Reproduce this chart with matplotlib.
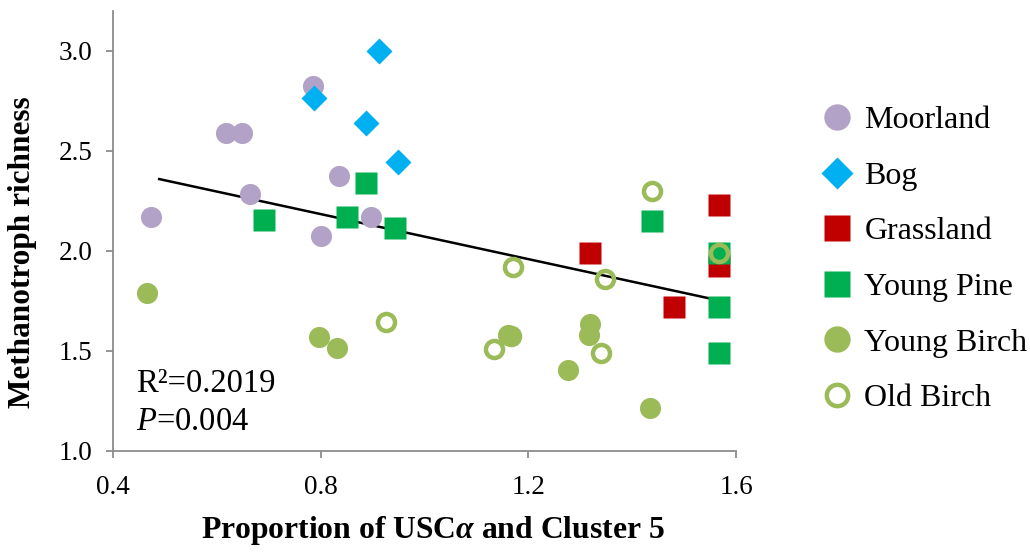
import matplotlib
matplotlib.use("Agg")
import matplotlib.pyplot as plt
import numpy as np

plt.rcParams["font.family"] = ["Liberation Serif", "DejaVu Serif"]
plt.rcParams["mathtext.fontset"] = "custom"
plt.rcParams["mathtext.rm"] = "Liberation Serif"
plt.rcParams["mathtext.it"] = "Liberation Serif:italic"
plt.rcParams["mathtext.bf"] = "Liberation Serif:bold"
plt.rcParams["mathtext.bfit"] = "Liberation Serif:italic:bold"

# Proportion of USCalpha + Cluster 5 (x) vs methanotroph richness (y), by land use
moorland_x = [0.474, 0.617, 0.649, 0.663, 0.786, 0.835, 0.896, 0.801]
moorland_y = [2.17, 2.59, 2.59, 2.285, 2.825, 2.377, 2.172, 2.077]

bog_x = [0.912, 0.787, 0.887, 0.949]
bog_y = [3.0, 2.767, 2.64, 2.445]

grassland_x = [1.567, 1.319, 1.481, 1.567]
grassland_y = [2.228, 1.99, 1.72, 1.925]

young_pine_x = [0.69, 0.887, 0.851, 0.944, 1.439, 1.567, 1.567, 1.567]
young_pine_y = [2.155, 2.338, 2.17, 2.113, 2.152, 1.99, 1.72, 1.49]

young_birch_x = [0.465, 0.797, 0.831, 1.160, 1.318, 1.316, 1.277, 1.435]
young_birch_y = [1.79, 1.572, 1.515, 1.58, 1.635, 1.58, 1.405, 1.213]

old_birch_x = [0.925, 1.170, 1.347, 1.439, 1.133, 1.340, 1.567, 1.167]
old_birch_y = [1.647, 1.92, 1.858, 2.30, 1.51, 1.488, 1.99, 1.575]

# Linear trend line over the sampled range
trend_slope = -0.563
trend_intercept = 2.635
trend_x_range = [0.489, 1.564]

r_squared = "0.2019"
p_value = "0.004"

x_ticks = [0.4, 0.8, 1.2, 1.6]
y_ticks = [1.0, 1.5, 2.0, 2.5, 3.0]

fig = plt.figure(figsize=(10.3, 5.52), dpi=100)
ax = fig.add_axes([113 / 1030, 1 - 451 / 552, 623 / 1030, 440 / 552])

ax.plot(moorland_x, moorland_y, ls="none", marker="o", ms=15.2,
        mfc="#B3A2C7", mec="none", label="Moorland")
ax.plot(bog_x, bog_y, ls="none", marker="D", ms=12.8,
        mfc="#00B0F0", mec="none", label="Bog")
ax.plot(grassland_x, grassland_y, ls="none", marker="s", ms=15.5,
        mfc="#C00000", mec="none", label="Grassland")
ax.plot(young_pine_x, young_pine_y, ls="none", marker="s", ms=15.5,
        mfc="#00B050", mec="none", label="Young Pine")
ax.plot(young_birch_x, young_birch_y, ls="none", marker="o", ms=15.2,
        mfc="#9BBB59", mec="none", label="Young Birch")
ax.plot(old_birch_x, old_birch_y, ls="none", marker="o", ms=12.3,
        mfc="none", mec="#9BBB59", mew=3.2, label="Old Birch")

tx = np.array(trend_x_range)
ax.plot(tx, trend_intercept + trend_slope * tx, color="black", lw=1.8, zorder=1.5)

ax.set_xlim(0.4, 1.6)
ax.set_ylim(1.0, 3.2)
ax.set_xticks(x_ticks)
ax.set_yticks(y_ticks)
ax.set_xticklabels([f"{v:.1f}" for v in x_ticks])
ax.set_yticklabels([f"{v:.1f}" for v in y_ticks])

for side in ("top", "right"):
    ax.spines[side].set_visible(False)
for side in ("left", "bottom"):
    ax.spines[side].set_color("#8C8C8C")
    ax.spines[side].set_linewidth(1.3)

ax.tick_params(axis="both", direction="out", length=5, width=1.3,
               color="#8C8C8C", labelsize=19.5, labelcolor="black")
ax.tick_params(axis="y", pad=10)
ax.tick_params(axis="x", pad=12)

ax.set_ylabel("Methanotroph richness", fontsize=22.5, fontweight="bold")
ax.yaxis.label.set_va("center")
ax.yaxis.set_label_coords(-0.146, 0.452)
ax.set_xlabel(r"Proportion of USC$\mathbfit{\alpha}$ and Cluster 5",
              fontsize=22.8, fontweight="bold")
ax.xaxis.label.set_va("center")
ax.xaxis.set_label_coords(0.514, -0.18)

ax.text(0.444, 1.297, "R\u00b2=" + r_squared, fontsize=23.5, va="baseline")
ax.text(0.444, 1.105, r"$\it{P}$=" + p_value, fontsize=23.5, va="baseline")

ax.legend(loc="upper left", bbox_to_anchor=(822 / 1030, 1 - 106 / 552),
          bbox_transform=fig.transFigure, frameon=False, fontsize=23,
          markerscale=1.25, handlelength=0.95, handletextpad=0.38,
          labelspacing=0.82, borderpad=0, borderaxespad=0)

fig.savefig("out.png", dpi=100)
